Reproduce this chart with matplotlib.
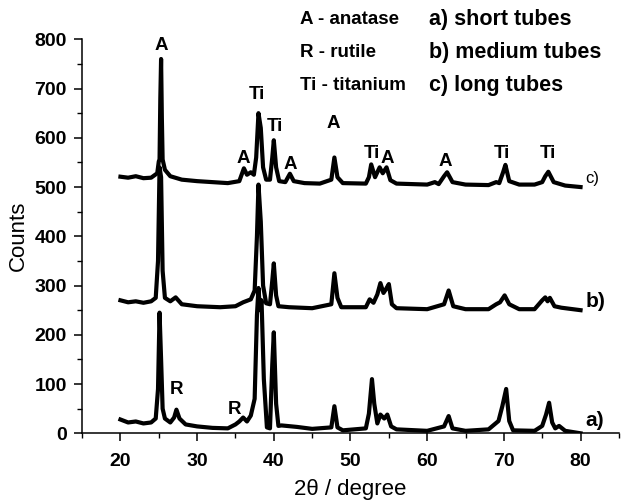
import matplotlib
matplotlib.use("Agg")
from matplotlib import pyplot as plt
from matplotlib.ticker import MultipleLocator

# trace vertices (2theta in degree, counts)
x_a = [20, 21, 22, 23, 24, 24.6, 24.9, 25.1, 25.3, 25.5, 25.8, 26.5, 27.0, 27.3, 27.7, 28.5,
       30, 32, 34, 35, 35.5, 36, 36.5, 37, 37.5, 37.8, 38.0, 38.2, 38.4, 38.7, 39.1, 39.5,
       39.8, 40.0, 40.3, 40.6, 41, 43, 45, 47.5, 47.9, 48.3, 49, 52, 52.4, 52.8, 53.1, 53.5,
       53.9, 54.4, 54.8, 55.3, 56, 60, 62.2, 62.8, 63.3, 65, 68, 69.3, 69.8, 70.3, 70.7,
       71.2, 74, 75, 75.5, 75.9, 76.3, 76.7, 77.2, 78, 80]
y_a = [28, 22, 24, 20, 22, 30, 90, 245, 150, 50, 30, 22, 32, 48, 30, 18,
       14, 11, 10, 18, 24, 32, 24, 36, 70, 240, 295, 250, 270, 110, 12, 10,
       140, 205, 60, 15, 16, 13, 9, 12, 55, 12, 6, 10, 40, 110, 60, 20,
       38, 30, 38, 14, 8, 5, 14, 35, 10, 5, 8, 25, 55, 90, 25,
       6, 5, 15, 38, 62, 22, 10, 15, 5, 0]

x_b = [20, 21, 22, 23, 24, 24.6, 24.9, 25.1, 25.3, 25.5, 25.8, 26.5, 27.2, 28, 30, 33, 35,
       36, 37, 37.5, 37.8, 38.0, 38.3, 38.6, 39.0, 39.5, 39.8, 40.0, 40.3, 40.6, 42, 45,
       47.5, 47.9, 48.3, 48.8, 52, 52.5, 53.0, 53.5, 53.9, 54.3, 54.6, 55.0, 55.4, 56, 60,
       62.2, 62.8, 63.4, 65, 68, 69, 69.5, 70.1, 70.7, 72, 74, 75, 75.4, 75.7, 76.0, 76.6,
       77.5, 80]
y_b = [270, 266, 268, 265, 268, 275, 350, 540, 520, 330, 275, 268, 276, 262, 258, 256, 258,
       266, 272, 290, 400, 505, 430, 300, 264, 262, 310, 345, 280, 258, 256, 254,
       262, 325, 275, 256, 256, 272, 265, 282, 305, 285, 292, 303, 262, 254, 252,
       262, 290, 258, 252, 252, 262, 266, 280, 262, 252, 252, 270, 276, 268, 275, 258,
       255, 250]

x_c = [20, 21, 22, 23, 24, 24.8, 25.0, 25.1, 25.2, 25.3, 25.4, 25.5, 25.8, 26.5, 28, 30,
       32, 34, 35.5, 36.1, 36.5, 37.0, 37.4, 37.7, 38.0, 38.3, 38.6, 39.0, 39.5, 39.8, 40.0,
       40.3, 40.7, 41.5, 42.1, 42.6, 44, 46, 47.5, 47.9, 48.3, 49, 52, 52.4, 52.7, 53.2,
       53.8, 54.2, 54.7, 55.2, 56, 60, 61, 61.5, 62.2, 62.6, 63.3, 65, 68, 69, 69.4,
       69.9, 70.2, 70.7, 72, 74, 75, 75.4, 75.8, 76.5, 78, 80]
y_c = [521, 519, 522, 518, 519, 528, 552, 556, 680, 760, 640, 556, 535, 522, 515, 512,
       510, 508, 512, 538, 525, 530, 525, 560, 650, 620, 540, 515, 515, 560, 595,
       540, 512, 510, 527, 512, 508, 507, 515, 560, 520, 508, 507, 520, 546, 520,
       540, 528, 540, 514, 507, 505, 510, 506, 522, 530, 510, 505, 504, 510, 508,
       530, 545, 512, 505, 505, 510, 522, 531, 510, 503, 500]

# peak labels
peak_text = ["A", "Ti", "Ti", "A", "A", "A", "Ti", "A", "A", "Ti", "Ti", "R", "R"]
peak_x = [25.3, 37.8, 40.1, 36.0, 42.1, 47.8, 52.8, 54.8, 62.4, 69.8, 75.8, 27.3, 34.9]
peak_y = [787, 687, 622, 557, 545, 629, 568, 558, 551, 568, 568, 88, 48]

curve_tags = ["a)", "b)", "c)"]
tag_y = [27, 267, 518]

phase_key = ["A - anatase", "R - rutile", "Ti - titanium"]
sample_key = ["a) short tubes", "b) medium tubes", "c) long tubes"]

plt.rcParams["font.family"] = ["Liberation Sans", "DejaVu Sans"]
plt.rcParams["font.weight"] = "bold"

fig = plt.figure(figsize=(6.22, 5.0), dpi=100)
ax = fig.add_axes([0.132, 0.1334, 0.863, 0.788])

for xs, ys in [(x_a, y_a), (x_b, y_b), (x_c, y_c)]:
    ax.plot(xs, ys, color="black", lw=3.0, solid_joinstyle="round")

for t, px, py in zip(peak_text, peak_x, peak_y):
    ax.text(px, py, t, ha="center", va="center", fontsize=13.5, fontweight="bold")

for t, py in zip(curve_tags, tag_y):
    ax.text(80.6, py, t, ha="left", va="center",
            fontsize=12 if t == "c)" else 15, fontweight="normal" if t == "c)" else "bold")

for i, t in enumerate(phase_key):
    fig.text(0.482, 0.962 - i * 0.067, t, ha="left", va="center", fontsize=13.5)
for i, t in enumerate(sample_key):
    fig.text(0.69, 0.962 - i * 0.066, t, ha="left", va="center", fontsize=15.5)

ax.set_xlim(15, 85)
ax.set_ylim(0, 800)
ax.xaxis.set_minor_locator(MultipleLocator(5))
ax.yaxis.set_major_locator(MultipleLocator(100))
ax.yaxis.set_minor_locator(MultipleLocator(50))
ax.set_xticks(range(20, 81, 10))
ax.spines["top"].set_visible(False)
ax.spines["right"].set_visible(False)
for s in ["left", "bottom"]:
    ax.spines[s].set_linewidth(1.1)
ax.tick_params(which="major", direction="out", length=6, width=1.1, labelsize=14)
ax.tick_params(which="minor", direction="out", length=3.5, width=1.0)
ax.tick_params(axis="x", which="major", pad=8)
ax.tick_params(axis="y", which="major", pad=5)
ax.set_ylabel("Counts", fontsize=16, fontweight="normal", labelpad=4)
ax.set_xlabel("2θ / degree", fontsize=16, fontweight="normal", labelpad=7)

plt.savefig("out.png", dpi=100)
